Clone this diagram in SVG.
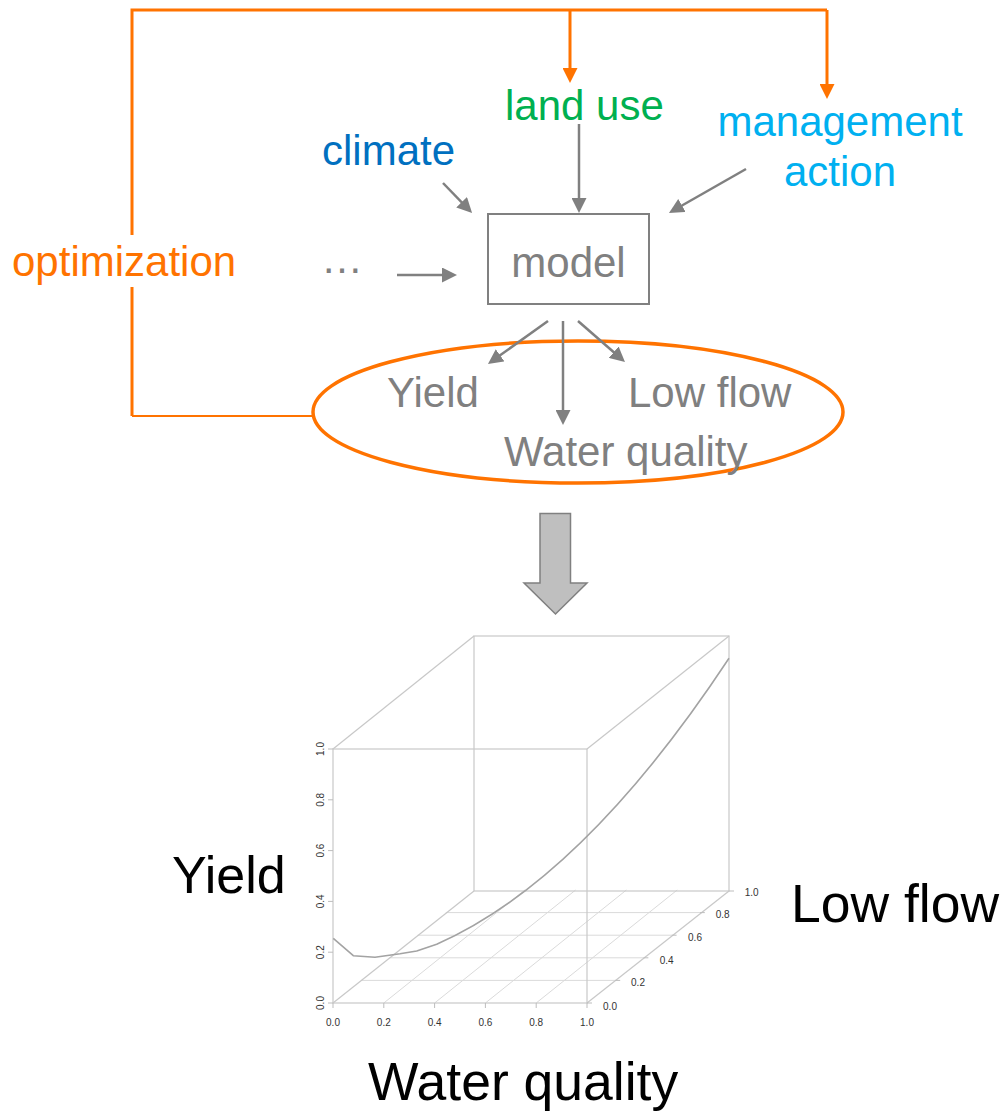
<svg xmlns="http://www.w3.org/2000/svg" width="1004" height="1115" viewBox="0 0 1004 1115">
  <style>
    .lbl { font-family: "Liberation Sans", Arial, sans-serif; font-size: 42px; }
    .grey { fill: #808080; }
    .big { font-family: "Liberation Sans", Arial, sans-serif; font-size: 52px; fill: #000; }
    .big.wide { font-size: 53.5px; }
    .tick { font-family: "Liberation Sans", Arial, sans-serif; font-size: 10px; fill: #333; }
    .garrow { stroke: #808080; stroke-width: 2.5; fill: none; marker-end: url(#headGrey); }
    .oline { stroke: #ff7300; stroke-width: 3; fill: none; }
    .oarrow { stroke: #ff7300; stroke-width: 3; fill: none; marker-end: url(#headOrange); }
    .box { stroke: #c8c8c8; stroke-width: 1.2; fill: none; }
    .grid { stroke: #dadada; stroke-width: 1; fill: none; }
    .tk { stroke: #bdbdbd; stroke-width: 1; }
  </style>
  <defs>
    <marker id="headGrey" markerUnits="userSpaceOnUse" markerWidth="15" markerHeight="15" refX="4" refY="7.5" orient="auto">
      <path d="M0,0 L15,7.5 L0,15 z" fill="#808080"/>
    </marker>
    <marker id="headOrange" markerUnits="userSpaceOnUse" markerWidth="15" markerHeight="15" refX="4" refY="7.5" orient="auto">
      <path d="M0,0 L15,7.5 L0,15 z" fill="#ff7300"/>
    </marker>
  </defs>

  <!-- optimization feedback loop -->
  <g id="optimization">
    <text class="lbl" x="12" y="276" fill="#ff7300">optimization</text>
  </g>

  <g id="climate"><text class="lbl" x="322" y="165" fill="#0070c0">climate</text></g>
  <g id="landuse"><text class="lbl" x="505" y="120" fill="#00b050">land use</text></g>
  <g id="management">
    <text class="lbl" x="840" y="136" text-anchor="middle" fill="#00b0f0">management</text>
    <text class="lbl" x="840" y="186" text-anchor="middle" fill="#00b0f0">action</text>
  </g>
  <g id="other"><text class="lbl grey" x="321" y="273">…</text></g>

  <g id="model">
    <rect x="488" y="214" width="161" height="90" fill="#fff" stroke="#808080" stroke-width="2"/>
    <text class="lbl grey" x="568.5" y="277" text-anchor="middle">model</text>
  </g>

  <g id="outputs">
    <ellipse cx="578" cy="412" rx="265" ry="71" fill="none" stroke="#ff7300" stroke-width="3.5"/>
    <text class="lbl grey" x="387" y="407">Yield</text>
    <text class="lbl grey" x="628" y="407">Low flow</text>
    <text class="lbl grey" x="504" y="466">Water quality</text>
  </g>

  <g id="connectors">
    <!-- orange loop -->
    <polyline class="oline" points="132,235 132,10 827,10"/>
    <polyline class="oline" points="132,287 132,416"/>
    <line x1="132" y1="416" x2="313" y2="416" stroke="#ff7300" stroke-width="2"/>
    <line class="oarrow" x1="570" y1="10" x2="570" y2="72"/>
    <line class="oarrow" x1="827" y1="10" x2="827" y2="88"/>
    <!-- inputs to model -->
    <line class="garrow" x1="443" y1="183" x2="464.4" y2="205.1"/>
    <line class="garrow" x1="579" y1="124" x2="579" y2="202"/>
    <line class="garrow" x1="746" y1="169" x2="678.5" y2="207.5"/>
    <line class="garrow" x1="397" y1="275" x2="446" y2="275"/>
    <!-- model to outputs -->
    <line class="garrow" x1="548" y1="321" x2="496.9" y2="357.6"/>
    <line class="garrow" x1="563" y1="321" x2="563" y2="414"/>
    <line class="garrow" x1="578" y1="321" x2="616.7" y2="354.8"/>
    <!-- block arrow to the trade-off plot -->
    <path d="M540,513.5 L570.5,513.5 L570.5,583 L587,583 L555.5,614 L524,583 L540,583 z" fill="#bfbfbf" stroke="#808080" stroke-width="1.5"/>
  </g>

  <!-- 3D trade-off surface plot -->
  <g id="plot">
    <!-- floor grid -->
    <g class="grid">
      <line x1="361.2" y1="980.4" x2="615.2" y2="980.4"/>
      <line x1="389.4" y1="957.8" x2="643.4" y2="957.8"/>
      <line x1="417.6" y1="935.2" x2="671.6" y2="935.2"/>
      <line x1="445.8" y1="912.6" x2="699.8" y2="912.6"/>
      <line x1="383.8" y1="1003" x2="524.8" y2="890"/>
      <line x1="434.6" y1="1003" x2="575.6" y2="890"/>
      <line x1="485.4" y1="1003" x2="626.4" y2="890"/>
      <line x1="536.2" y1="1003" x2="677.2" y2="890"/>
    </g>
    <!-- box -->
    <g class="box">
      <rect x="474" y="636" width="255" height="255"/>
      <rect x="333" y="749" width="254" height="254"/>
      <line x1="333" y1="749" x2="474" y2="636"/>
      <line x1="587" y1="749" x2="729" y2="636"/>
      <line x1="587" y1="1003" x2="729" y2="891"/>
      <line x1="333" y1="1003" x2="474" y2="891"/>
    </g>
    <!-- trade-off curve -->
    <path fill="none" stroke="#a3a3a3" stroke-width="1.6" stroke-linejoin="round" d="M333.3,938.3 L353.3,955.7 L375,957.3 L400,953.8 L416.7,951 L436.7,944.3 Q582.85,879.7 729,658.3"/>
    <!-- axis ticks -->
    <g class="tk">
      <line x1="333" y1="1003" x2="333" y2="1008"/>
      <line x1="383.8" y1="1003" x2="383.8" y2="1008"/>
      <line x1="434.6" y1="1003" x2="434.6" y2="1008"/>
      <line x1="485.4" y1="1003" x2="485.4" y2="1008"/>
      <line x1="536.2" y1="1003" x2="536.2" y2="1008"/>
      <line x1="587" y1="1003" x2="587" y2="1008"/>
      <line x1="333" y1="1003" x2="328" y2="1003"/>
      <line x1="333" y1="952.2" x2="328" y2="952.2"/>
      <line x1="333" y1="901.4" x2="328" y2="901.4"/>
      <line x1="333" y1="850.6" x2="328" y2="850.6"/>
      <line x1="333" y1="799.8" x2="328" y2="799.8"/>
      <line x1="333" y1="749" x2="328" y2="749"/>
      <line x1="587" y1="1003" x2="592" y2="1003"/>
      <line x1="615.2" y1="980.4" x2="620.2" y2="980.4"/>
      <line x1="643.4" y1="957.8" x2="648.4" y2="957.8"/>
      <line x1="671.6" y1="935.2" x2="676.6" y2="935.2"/>
      <line x1="699.8" y1="912.6" x2="704.8" y2="912.6"/>
      <line x1="729" y1="891" x2="734" y2="891"/>
    </g>
    <g class="tick" text-anchor="middle">
      <text x="333" y="1026">0.0</text>
      <text x="383.8" y="1026">0.2</text>
      <text x="434.6" y="1026">0.4</text>
      <text x="485.4" y="1026">0.6</text>
      <text x="536.2" y="1026">0.8</text>
      <text x="587" y="1026">1.0</text>
      <text transform="translate(324,1003) rotate(-90)">0.0</text>
      <text transform="translate(324,952.2) rotate(-90)">0.2</text>
      <text transform="translate(324,901.4) rotate(-90)">0.4</text>
      <text transform="translate(324,850.6) rotate(-90)">0.6</text>
      <text transform="translate(324,799.8) rotate(-90)">0.8</text>
      <text transform="translate(324,749) rotate(-90)">1.0</text>
      <text x="610" y="1009.5">0.0</text>
      <text x="638" y="985.5">0.2</text>
      <text x="666.7" y="963.5">0.4</text>
      <text x="695" y="940.5">0.6</text>
      <text x="722.7" y="917.5">0.8</text>
      <text x="751.7" y="895.5">1.0</text>
    </g>
    <text class="big" x="172" y="893">Yield</text>
    <text class="big wide" x="791" y="922">Low flow</text>
    <text class="big wide" x="368" y="1100">Water quality</text>
  </g>
</svg>
